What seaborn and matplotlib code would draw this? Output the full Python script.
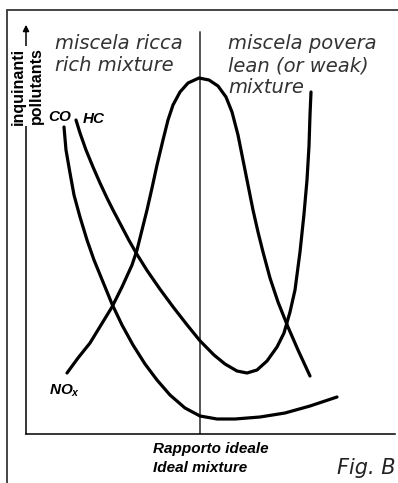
import matplotlib
matplotlib.use("Agg")
import matplotlib.pyplot as plt
from matplotlib.lines import Line2D
import pandas as pd
import seaborn as sns

# Excess air relative to the ideal mixture (%), and relative emission level
co_x = [-34, -33.5, -32.5, -31.5, -30, -28.25, -26.5, -24.25, -22, -19.5, -16.75,
        -13.75, -10.75, -7.5, -3.75, 0, 4.25, 8.75, 15, 21.25, 27.5, 34.25]
co_y = [76.75, 71, 65.25, 59.75, 54.25, 48.5, 43.5, 38, 32.5, 27.25, 22.25,
        17.5, 13.5, 9.75, 6.5, 4.5, 3.75, 3.75, 4.25, 5.25, 7, 9.25]

hc_x = [-31, -30, -28.5, -26.75, -25, -23.25, -21.75, -19.75, -17.75, -15.75, -13.25,
        -10, -6.75, -3.25, 0, 3.5, 6.25, 9.25, 11.75, 14.25, 16.75, 19.25, 21,
        22.5, 23.75, 25, 26, 26.75, 27.25, 27.5, 27.75]
hc_y = [78.5, 75.25, 71, 66.75, 62.75, 59.0, 56.0, 52.2, 48.4, 44.9, 40.9,
        36.2, 31.8, 27.3, 23.3, 19.75, 17.5, 15.75, 15.25, 16, 18.25, 21.75, 25.25,
        30.5, 36, 45.5, 55, 63.5, 72, 79.75, 85.5]

nox_x = [-33.25, -30.5, -27.5, -24.75, -22, -19.5, -17, -15.75, -14.5, -13.25, -12,
         -10.75, -9.25, -8, -6.75, -5, -3, -0.25, 2.25, 4.5, 6.5, 8, 9.5, 10.75,
         12, 13.25, 14.5, 15.75, 17.5, 19.5, 22, 24.5, 27.5]
nox_y = [15.25, 19, 22.75, 27.25, 31.75, 36.75, 42.25, 46, 51, 56, 61.5,
         67.25, 73.5, 78.5, 82.25, 85.5, 87.75, 89, 88.5, 87, 84.25, 80.5, 74.75, 68.5,
         62.25, 56, 50.5, 45.5, 39, 33, 26.75, 21, 14.5]

series = {"CO": (co_x, co_y), "HC": (hc_x, hc_y), "NOx": (nox_x, nox_y)}
df = pd.concat(
    [pd.DataFrame({"excess_air": xs, "level": ys, "pollutant": name})
     for name, (xs, ys) in series.items()],
    ignore_index=True,
)

sns.set_theme(style="white")
plt.rcParams["font.family"] = ["DejaVu Sans"]
plt.rcParams["mathtext.fontset"] = "custom"
plt.rcParams["mathtext.it"] = "Liberation Sans:italic:bold"
plt.rcParams["mathtext.rm"] = "Liberation Sans:bold"

fig = plt.figure(figsize=(3.98, 4.83), dpi=100)
ax = fig.add_axes([26 / 398, 49 / 483, 369 / 398, 424 / 483])

sns.lineplot(data=df, x="excess_air", y="level", hue="pollutant", units="pollutant",
             estimator=None, sort=False, legend=False, lw=2.3,
             palette={"CO": "black", "HC": "black", "NOx": "black"}, ax=ax)

x_min, x_max = -43.5, 48.75
ax.set_xlim(x_min, x_max)
ax.set_ylim(0, 106)
ax.set_xticks([])
ax.set_yticks([])
ax.set_xlabel("")
ax.set_ylabel("")
for side in ("left", "top", "right"):
    ax.spines[side].set_visible(False)
ax.spines["bottom"].set_color("black")
ax.spines["bottom"].set_linewidth(1.1)
ax.patch.set_alpha(0)

# ideal mixture marker
ax.plot([0, 0], [0, 100.5], color="#555555", lw=1.4, zorder=1)

# vertical axis with arrow
ax.annotate("", xy=(x_min, 102.3), xytext=(x_min, 0),
            arrowprops=dict(arrowstyle="-|>", color="black", lw=1.1,
                            mutation_scale=9, shrinkA=0, shrinkB=0),
            annotation_clip=False)
ax.text(x_min + 0.3, 87, "inquinanti\npollutants", rotation=90, ha="center", va="center",
        family=["Liberation Sans"], weight="bold", fontsize=11.5, linespacing=1.3,
        color="black", bbox=dict(facecolor="white", edgecolor="none", pad=1.0), zorder=5)

# region labels
ax.text(-36.25, 100, "miscela ricca\nrich mixture", ha="left", va="top",
        style="oblique", fontsize=14, color="#333333")
ax.text(7, 100, "miscela povera\nlean (or weak)\nmixture", ha="left", va="top",
        style="oblique", fontsize=14, color="#333333")

bold_it = dict(family=["Liberation Sans"], weight="bold", style="italic",
               fontsize=11, color="black")
ax.text(-38, 78.25, "CO", ha="left", va="baseline", **bold_it)
ax.text(-29.25, 77.75, "HC", ha="left", va="baseline", **bold_it)
ax.text(-37.75, 9.75, r"$NO_x$", ha="left", va="baseline", fontsize=11, color="black")

ax.text(-11.75, -9.5, "Rapporto ideale\nIdeal mixture", ha="left", va="baseline",
        family=["Liberation Sans"], weight="bold", style="italic", fontsize=11,
        linespacing=1.45, color="black", clip_on=False)
ax.text(34.25, -10, "Fig. B", ha="left", va="baseline", style="oblique",
        fontsize=15, color="#222222", clip_on=False)

# outer frame
fig.add_artist(Line2D([7 / 398, 1.0], [1 - 10 / 483, 1 - 10 / 483],
                      color="#444444", lw=1.4))
fig.add_artist(Line2D([7 / 398, 7 / 398], [0, 1 - 10 / 483],
                      color="#444444", lw=1.4))

fig.savefig("out.png", dpi=100, facecolor="white")
